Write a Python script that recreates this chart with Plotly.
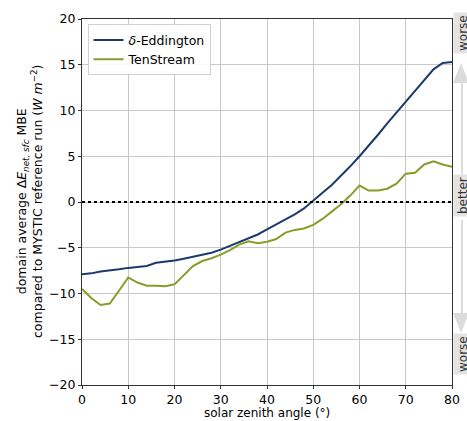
import plotly.graph_objects as go

# Data
sza = list(range(0, 82, 2))
delta_eddington = [-7.9, -7.8, -7.6, -7.5, -7.35, -7.2, -7.1, -7.0, -6.65, -6.55,
                   -6.4, -6.2, -6.0, -5.8, -5.55, -5.2, -4.8, -4.4, -4.0, -3.55,
                   -3.0, -2.45, -1.85, -1.35, -0.7, 0.2, 1.0, 1.85, 2.85, 3.9,
                   5.0, 6.15, 7.35, 8.6, 9.8, 11.0, 12.2, 13.4, 14.5, 15.2, 15.3]
tenstream = [-9.5, -10.5, -11.25, -11.1, -9.7, -8.25, -8.8, -9.15, -9.15, -9.2,
             -9.0, -8.0, -7.0, -6.45, -6.15, -5.75, -5.25, -4.65, -4.3, -4.5,
             -4.35, -4.05, -3.35, -3.05, -2.9, -2.5, -1.85, -1.05, -0.25, 0.7,
             1.8, 1.25, 1.25, 1.45, 2.0, 3.1, 3.2, 4.1, 4.45, 4.1, 3.85]
series_names = ["<i>δ</i>-Eddington", "TenStream"]
series_colors = ["#1d3a6b", "#8a9b2c"]
x_ticks = [0, 10, 20, 30, 40, 50, 60, 70, 80]
y_ticks = [-20, -15, -10, -5, 0, 5, 10, 15, 20]

FONT = "DejaVu Sans"
fig = go.Figure()
for name, vals, col in zip(series_names, [delta_eddington, tenstream], series_colors):
    fig.add_trace(go.Scatter(x=sza, y=vals, mode="lines", name=name,
                             line=dict(color=col, width=2)))

# zero reference line
fig.add_shape(type="line", xref="x", yref="y", x0=0, x1=80, y0=0, y1=0,
              line=dict(color="black", width=2, dash="dot"))

L, R, T, B = 82, 452, 19, 385
W, H = 467, 421
def px(x):
    return (x - L) / (R - L)
def py(y):
    return (B - y) / (B - T)

# right side indicator boxes
for label, ycen in [("worse", 33), ("better", 196), ("worse", 354)]:
    fig.add_annotation(xref="paper", yref="paper", x=px(453), y=py(ycen),
                       xanchor="left", yanchor="middle", text=label, textangle=-90,
                       showarrow=False, font=dict(family=FONT, size=12, color="#333"),
                       bgcolor="#e3e3e3", borderpad=2)

# arrows (light grey)
arrow_col = "#dcdcdc"
fig.add_shape(type="path", xref="paper", yref="paper",
              path=f"M {px(453)} {py(83)} L {px(461)} {py(63)} L {px(469)} {py(83)} Z",
              fillcolor=arrow_col, line=dict(width=0))
fig.add_shape(type="line", xref="paper", yref="paper",
              x0=px(462), x1=px(462), y0=py(83), y1=py(174),
              line=dict(color=arrow_col, width=2))
fig.add_shape(type="path", xref="paper", yref="paper",
              path=f"M {px(453)} {py(313)} L {px(461)} {py(333)} L {px(469)} {py(313)} Z",
              fillcolor=arrow_col, line=dict(width=0))
fig.add_shape(type="line", xref="paper", yref="paper",
              x0=px(462), x1=px(462), y0=py(220), y1=py(313),
              line=dict(color=arrow_col, width=2))

# y-axis title (two lines)
fig.add_annotation(xref="paper", yref="paper", x=px(29), y=py(202),
                   xanchor="center", yanchor="middle", textangle=-90, showarrow=False,
                   text="domain average Δ<i>E</i><sub><i>net, sfc</i></sub> MBE<br>"
                        "compared to MYSTIC reference run (<i>W m</i><sup>−2</sup>)",
                   font=dict(family=FONT, size=12.5, color="black"))
# x-axis title
fig.add_annotation(xref="paper", yref="paper", x=0.5, y=py(413),
                   xanchor="center", yanchor="middle", showarrow=False,
                   text="solar zenith angle (°)",
                   font=dict(family=FONT, size=12, color="black"))

axis_common = dict(showgrid=True, gridcolor="#c8c8c8", gridwidth=1,
                   showline=True, linecolor="#333", linewidth=1, mirror=True,
                   ticks="outside", ticklen=3, tickcolor="#333", zeroline=False,
                   automargin=False,
                   tickfont=dict(family=FONT, size=12.5, color="black"))
fig.update_xaxes(range=[0, 80], tickvals=x_ticks, **axis_common)
fig.update_yaxes(range=[-20, 20], tickvals=y_ticks, **axis_common)

fig.update_layout(width=W, height=H, margin=dict(l=L, r=W - R, t=T, b=H - B, autoexpand=False),
                  paper_bgcolor="white", plot_bgcolor="white",
                  font=dict(family=FONT, size=12.5, color="black"),
                  showlegend=True,
                  legend=dict(x=0.015, y=0.985, xanchor="left", yanchor="top",
                              bgcolor="rgba(255,255,255,0.9)", bordercolor="#d0d0d0",
                              borderwidth=1, font=dict(family=FONT, size=12.5),
                              tracegroupgap=0, itemwidth=30))

fig.write_html("out.html", config={"displayModeBar": False},
               post_script="document.body.style.margin='0';document.body.style.overflow='hidden';")
